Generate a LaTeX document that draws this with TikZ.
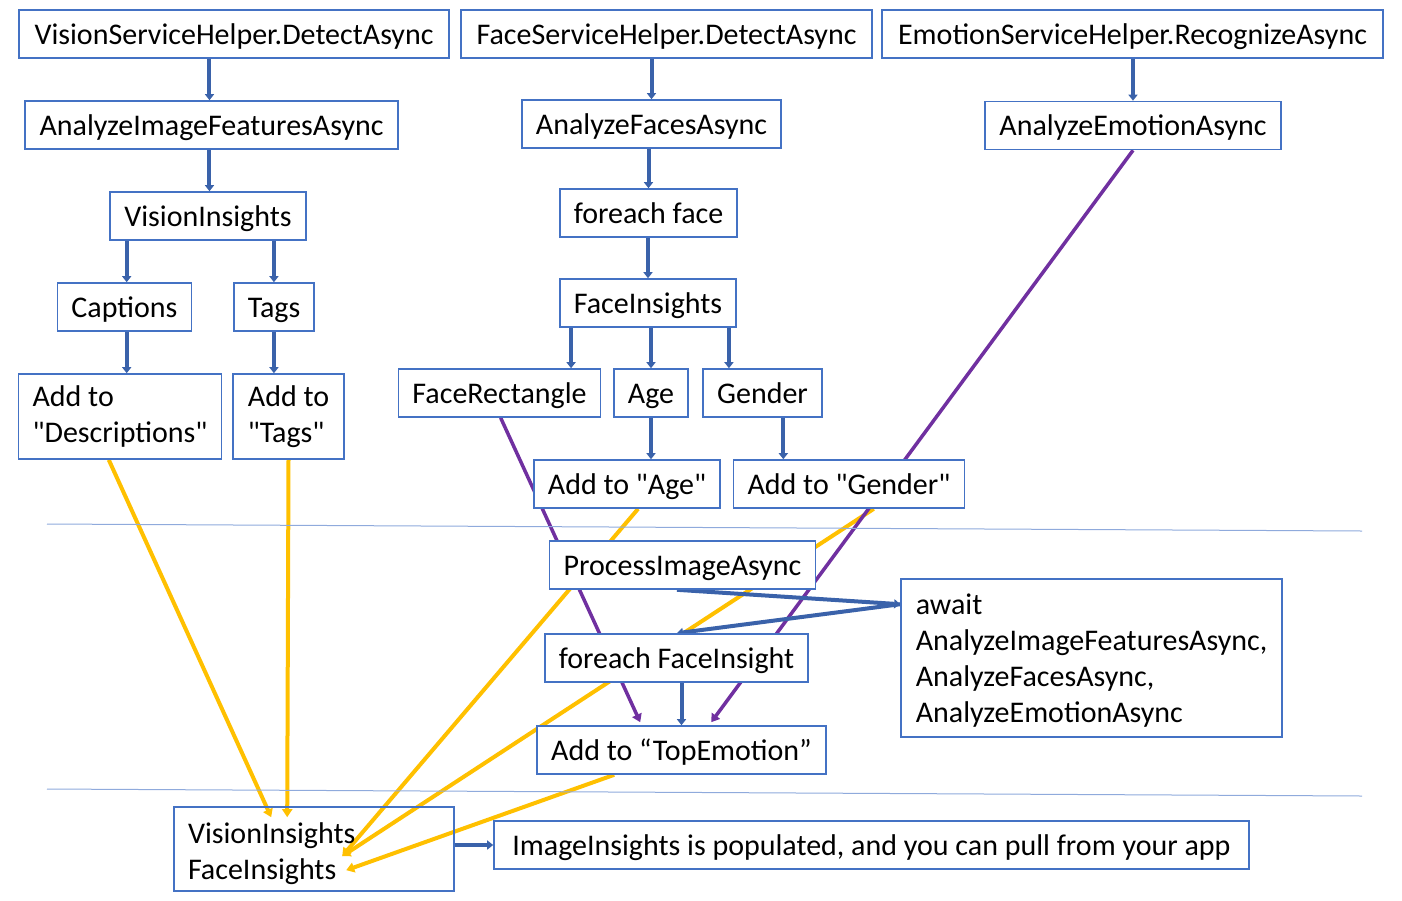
\documentclass[tikz,border=0pt]{standalone}
\usepackage{fontspec}
\setmainfont{Carlito}
\usepackage{tikz}
\usetikzlibrary{arrows.meta,calc,backgrounds}
\definecolor{boxblue}{HTML}{4472C4}
\definecolor{flowblue}{HTML}{3A62AA}
\definecolor{emopurple}{HTML}{7030A0}
\definecolor{mergeyellow}{HTML}{FFC000}
\definecolor{rulecol}{HTML}{8FAADC}
\newcommand{\qt}{\textquotedbl}

\begin{document}
\begin{tikzpicture}[
  x=0.5pt,y=-0.5pt,
  frame/.style={draw=boxblue,line width=0.8pt,fill=white,minimum height=24pt,inner xsep=7pt,inner ysep=2pt,font=\fontsize{15}{18}\selectfont},
  box/.style={frame,text height=13pt,text depth=3pt},
  tallbox/.style={frame,align=left},
  flow/.style={flowblue,line width=2pt,-{Triangle[length=3pt,width=4.5pt]}},
  emo/.style={emopurple,line width=1.75pt,-{Triangle[length=4pt,width=5pt]}},
  merge/.style={mergeyellow,line width=2pt,-{Triangle[length=4pt,width=5pt]}},
  sep/.style={rulecol,line width=0.5pt}
]
\useasboundingbox (0,0) rectangle (1402,900);
\foreach \n/\x/\y/\w/\t in {vsh/234/34/430/VisionServiceHelper.DetectAsync,
  fsh/666.5/34/411/FaceServiceHelper.DetectAsync,
  esh/1132.5/34/501/EmotionServiceHelper.RecognizeAsync,
  aif/211.5/125/373/AnalyzeImageFeaturesAsync,
  afa/651.5/124/259/AnalyzeFacesAsync,
  aem/1133/125.5/296/AnalyzeEmotionAsync,
  vins/208/216/194/VisionInsights,
  ffac/648.5/213/177/foreach face,
  capt/124.5/307/131/Captions,
  tags/274/307/78/Tags,
  fins/648/303/176/FaceInsights,
  frect/499.5/393/201/FaceRectangle,
  age/651/393/70/Age,
  gend/762.5/393/117/Gender,
  aage/627/484/184/Add to \qt Age\qt,
  agend/849/484/230/Add to \qt Gender\qt,
  proc/682.5/565/265/ProcessImageAsync,
  ffi/676.5/658/263/foreach FaceInsight,
  atop/681.5/750/289/Add to “TopEmotion”,
  pop/871.5/845/755/{ImageInsights is populated, and you can pull from your app}}
  {\node[box,minimum width=\w*0.5pt] (\n) at (\x,\y) {\t};}
\node[tallbox,minimum width=101pt,minimum height=42.5pt] (adesc) at (120,416.5) {Add to\\\qt Descriptions\qt};
\node[tallbox,minimum width=55.5pt,minimum height=42.5pt] (atags) at (288.5,416.5) {Add to\\\qt Tags\qt};
\node[tallbox,minimum width=190.5pt,minimum height=79pt] (await) at (1091.5,658) {\rule{0pt}{13pt}await\\AnalyzeImageFeaturesAsync,\\AnalyzeFacesAsync,\\AnalyzeEmotionAsync};
\node[tallbox,fill=none,text width=126pt,minimum height=42pt] (res) at (314,849) {\rule{0pt}{15pt}VisionInsights\\FaceInsights};

\draw[sep] (47,524) -- (1362,531);
\draw[sep] (47,789) -- (1362,796);

\begin{scope}[on background layer]
\draw[merge] ($(adesc.south west)+(91,0)$) -- ($(res.north west)+(98,11)$);
\draw[merge] (atags.south) -- ($(res.north west)+(114,11)$);
\draw[merge] ($(aage.south west)+(105,0)$) -- ($(res.north west)+(169,50)$);
\draw[merge] ($(agend.south west)+(141,0)$) -- ($(res.north west)+(169,50)$);
\draw[merge] ($(atop.south west)+(78,0)$) -- ($(res.north west)+(173,64)$);
\draw[emo] ($(frect.south west)+(103,0)$) -- ($(atop.north west)+(104,-3)$);
\draw[emo] (aem.south) -- ($(atop.north west)+(175,-3)$);
\draw[flow] ($(proc.south west)+(128,0)$) -- ($(await.north west)+(0,26)$);
\draw[flow] ($(await.north west)+(0,26)$) -- ($(ffi.north west)+(133,0)$);
\end{scope}

\coordinate (xv) at ($(vins.north west)+(100,0)$);
\coordinate (xc) at ($(capt.north west)+(70,0)$);
\coordinate (xt) at ($(tags.north west)+(41,0)$);
\coordinate (xr) at ($(fins.south west)+(12,0)$);
\coordinate (xg) at ($(fins.south east)+(-8,0)$);
\coordinate (xa) at ($(gend.south west)+(81,0)$);
\draw[flow] (vsh.south -| xv) -- (aif.north -| xv);
\draw[flow] (aif.south -| xv) -- (vins.north -| xv);
\draw[flow] (vins.south -| xc) -- (capt.north -| xc);
\draw[flow] (vins.south -| xt) -- (tags.north -| xt);
\draw[flow] (capt.south -| xc) -- (adesc.north -| xc);
\draw[flow] (tags.south -| xt) -- (atags.north -| xt);
\draw[flow] (fsh.south -| afa.north) -- (afa.north);
\draw[flow] (afa.south -| ffac.north) -- (ffac.north);
\draw[flow] (ffac.south -| fins.north) -- (fins.north);
\draw[flow] (fins.south -| xr) -- (frect.north -| xr);
\draw[flow] (fins.south -| age.north) -- (age.north);
\draw[flow] (fins.south -| xg) -- (gend.north -| xg);
\draw[flow] (age.south) -- (aage.north -| age.south);
\draw[flow] (gend.south -| xa) -- (agend.north -| xa);
\draw[flow] (esh.south -| aem.north) -- (aem.north);
\draw[flow] (ffi.south -| atop.north) -- (atop.north);
\draw[flow] (res.east |- pop.west) -- (pop.west);
\end{tikzpicture}
\end{document}
